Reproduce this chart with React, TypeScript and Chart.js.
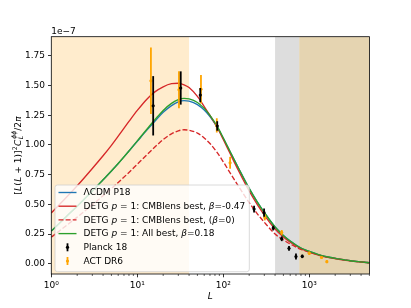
import React, { useEffect, useRef } from 'react';
import { Chart, registerables } from 'chart.js';

Chart.register(...registerables);

// ---------- data (values in units of 1e-7) ----------
const L_GRID = [1, 1.5, 2, 3, 4, 5, 6, 8, 10, 13, 16, 20, 25, 30, 35, 40, 50, 60, 70, 85, 100, 120, 150, 200, 250, 300, 400, 500, 600, 800, 1000, 1300, 1700, 2200, 3000, 4000, 5000];
const LCDM_P18 = [0.275, 0.398, 0.484, 0.612, 0.707, 0.781, 0.844, 0.949, 1.031, 1.127, 1.200, 1.275, 1.331, 1.363, 1.374, 1.369, 1.340, 1.294, 1.239, 1.150, 1.056, 0.943, 0.806, 0.634, 0.516, 0.431, 0.309, 0.238, 0.191, 0.132, 0.103, 0.075, 0.054, 0.040, 0.025, 0.015, 0.008];
const DETG_CMBLENS_BEST = [0.427, 0.559, 0.656, 0.802, 0.909, 0.997, 1.074, 1.198, 1.291, 1.388, 1.447, 1.490, 1.516, 1.520, 1.507, 1.484, 1.409, 1.324, 1.249, 1.147, 1.046, 0.928, 0.785, 0.612, 0.495, 0.410, 0.292, 0.225, 0.181, 0.126, 0.097, 0.071, 0.051, 0.037, 0.024, 0.014, 0.008];
const DETG_CMBLENS_B0 = [0.223, 0.322, 0.392, 0.496, 0.573, 0.633, 0.684, 0.769, 0.838, 0.919, 0.982, 1.046, 1.094, 1.119, 1.128, 1.124, 1.100, 1.059, 1.012, 0.936, 0.858, 0.765, 0.653, 0.514, 0.418, 0.349, 0.250, 0.200, 0.166, 0.120, 0.097, 0.072, 0.053, 0.040, 0.025, 0.015, 0.008];
const DETG_ALL_BEST = [0.275, 0.398, 0.484, 0.612, 0.707, 0.781, 0.844, 0.949, 1.034, 1.135, 1.212, 1.291, 1.350, 1.382, 1.393, 1.388, 1.358, 1.308, 1.249, 1.156, 1.059, 0.945, 0.806, 0.634, 0.516, 0.431, 0.309, 0.238, 0.191, 0.132, 0.103, 0.075, 0.054, 0.040, 0.025, 0.015, 0.008];

const PLANCK_L = [15.3, 32, 54, 85, 228, 298, 381, 478, 581, 700, 829];
const PLANCK_V = [1.33, 1.48, 1.42, 1.16, 0.46, 0.43, 0.30, 0.21, 0.13, 0.06, 0.062];
const PLANCK_E = [0.25, 0.14, 0.06, 0.04, 0.028, 0.035, 0.02, 0.02, 0.02, 0.025, 0.015];

const ACT_L = [14.4, 30.5, 55, 84, 120, 304, 478, 1000, 1390, 1600];
const ACT_V = [1.54, 1.465, 1.47, 1.165, 0.85, 0.39, 0.263, 0.088, 0.052, 0.017];
const ACT_E = [0.28, 0.155, 0.12, 0.06, 0.05, 0.025, 0.021, 0.015, 0.01, 0.012];

const REGION_LO = [1, 400, 763];
const REGION_HI = [40, 763, 5000];

const X_MAJOR = [1, 10, 100, 1000];
const X_LABELS = ['10⁰', '10¹', '10²', '10³'];
const Y_TICKS = [0, 0.25, 0.5, 0.75, 1.0, 1.25, 1.5, 1.75];
const X_MIN = 1, X_MAX = 5000;
const Y_MIN = -0.0868, Y_MAX = 1.912;

type Seg = [string, boolean];
const LEGEND_LABELS: Seg[][] = [
  [['ΛCDM P18', false]],
  [['DETG ', false], ['p', true], [' = 1: CMBlens best, ', false], ['β', true], ['=-0.47', false]],
  [['DETG ', false], ['p', true], [' = 1: CMBlens best, (', false], ['β', true], ['=0)', false]],
  [['DETG ', false], ['p', true], [' = 1: All best, ', false], ['β', true], ['=0.18', false]],
  [['Planck 18', false]],
  [['ACT DR6', false]],
];

// ---------- styles ----------
const BLUE = '#1f77b4', RED = '#d62728', GREEN = '#2ca02c', ORANGE = '#ffa500';
const REGION_COLORS = ['rgb(255,236,205)', 'rgb(221,221,221)', 'rgb(229,212,177)'];
const FONT = '"DejaVu Sans", sans-serif';
const FS = 9;

function setFont(ctx: CanvasRenderingContext2D, size: number, italic: boolean) {
  ctx.font = `${italic ? 'italic ' : ''}${size}px ${FONT}`;
}

function segsWidth(ctx: CanvasRenderingContext2D, segs: Seg[]) {
  let w = 0;
  for (const [t, it] of segs) { setFont(ctx, FS, it); w += ctx.measureText(t).width; }
  return w;
}

function drawSegs(ctx: CanvasRenderingContext2D, segs: Seg[], x: number, y: number) {
  for (const [t, it] of segs) {
    setFont(ctx, FS, it);
    ctx.fillText(t, x, y);
    x += ctx.measureText(t).width;
  }
  return x;
}

const customPlugin = {
  id: 'custom',
  beforeDatasetsDraw(chart: any) {
    const { ctx, chartArea: a, scales } = chart;
    const x = scales.x;
    ctx.save();
    ctx.beginPath();
    ctx.rect(a.left, a.top, a.right - a.left, a.bottom - a.top);
    ctx.clip();
    for (let i = 0; i < REGION_LO.length; i++) {
      const x0 = Math.max(a.left, x.getPixelForValue(REGION_LO[i]));
      const x1 = Math.min(a.right, x.getPixelForValue(REGION_HI[i]));
      ctx.fillStyle = REGION_COLORS[i];
      ctx.fillRect(x0, a.top, x1 - x0, a.bottom - a.top);
    }
    ctx.restore();
  },
  beforeDatasetDraw(chart: any, args: any) {
    const ds = chart.data.datasets[args.index];
    if (!ds.errs) return;
    const { ctx, scales } = chart;
    ctx.save();
    ctx.strokeStyle = ds.errColor;
    ctx.lineWidth = 1.8;
    ds.data.forEach((p: any, i: number) => {
      const px = scales.x.getPixelForValue(p.x);
      const y0 = scales.y.getPixelForValue(p.y - ds.errs[i]);
      const y1 = scales.y.getPixelForValue(p.y + ds.errs[i]);
      ctx.beginPath();
      ctx.moveTo(px, y0);
      ctx.lineTo(px, y1);
      ctx.stroke();
    });
    ctx.restore();
  },
  afterDatasetsDraw(chart: any) {
    const { ctx, chartArea: a, scales } = chart;
    ctx.save();
    ctx.strokeStyle = '#000';
    ctx.lineWidth = 0.6;
    for (let d = 1; d <= 1000; d *= 10) {
      for (let m = 2; m <= 9; m++) {
        const v = m * d;
        if (v > X_MAX) continue;
        const px = scales.x.getPixelForValue(v);
        ctx.beginPath();
        ctx.moveTo(px, a.bottom);
        ctx.lineTo(px, a.bottom + 2);
        ctx.stroke();
      }
    }
    ctx.lineWidth = 0.8;
    ctx.strokeRect(a.left, a.top, a.right - a.left, a.bottom - a.top);
    ctx.restore();
  },
  afterDraw(chart: any) {
    const { ctx, chartArea: a } = chart;
    ctx.save();
    ctx.fillStyle = '#000';
    ctx.textBaseline = 'alphabetic';

    setFont(ctx, FS, false);
    ctx.textAlign = 'left';
    ctx.fillText('1e\u22127', a.left, 34);

    setFont(ctx, FS, true);
    ctx.textAlign = 'center';
    ctx.fillText('L', (a.left + a.right) / 2, 299);

    ctx.textAlign = 'left';
    const small = 6.3;
    const parts: { t: string; it: boolean; size: number; dy: number; stackWith?: { t: string; it: boolean; size: number; dy: number } }[] = [
      { t: '[', it: false, size: FS, dy: 0 },
      { t: 'L', it: true, size: FS, dy: 0 },
      { t: '(', it: false, size: FS, dy: 0 },
      { t: 'L', it: true, size: FS, dy: 0 },
      { t: ' + 1)]', it: false, size: FS, dy: 0 },
      { t: '2', it: false, size: small, dy: -3.8 },
      { t: 'C', it: true, size: FS, dy: 0 },
      { t: 'L', it: true, size: small, dy: 2.2, stackWith: { t: 'ϕϕ', it: true, size: small, dy: -4.2 } },
      { t: '/2', it: false, size: FS, dy: 0 },
      { t: 'π', it: true, size: FS, dy: 0 },
    ];
    let total = 0;
    const widths: number[] = [];
    for (const p of parts) {
      setFont(ctx, p.size, p.it);
      let w = ctx.measureText(p.t).width;
      if (p.stackWith) {
        setFont(ctx, p.stackWith.size, p.stackWith.it);
        w = Math.max(w, ctx.measureText(p.stackWith.t).width);
      }
      widths.push(w + 0.3);
      total += w + 0.3;
    }
    ctx.translate(20.5, (a.top + a.bottom) / 2);
    ctx.rotate(-Math.PI / 2);
    let cx = -total / 2;
    parts.forEach((p, i) => {
      setFont(ctx, p.size, p.it);
      ctx.fillText(p.t, cx, p.dy);
      if (p.stackWith) {
        setFont(ctx, p.stackWith.size, p.stackWith.it);
        ctx.fillText(p.stackWith.t, cx + 0.5, p.stackWith.dy);
      }
      cx += widths[i];
    });
    ctx.setTransform(1, 0, 0, 1, 0, 0);

    // legend
    const lx = 55, ly = 185, rowY0 = 192.5, step = 13.7;
    const hx0 = 58.5, hx1 = 76.5, tx = 83.5;
    let maxW = 0;
    for (const segs of LEGEND_LABELS) maxW = Math.max(maxW, segsWidth(ctx, segs));
    const lw = tx + maxW + 4 - lx;
    const lh = rowY0 + step * 5 + 10.7 - ly;
    const r = 2.5;
    ctx.beginPath();
    ctx.moveTo(lx + r, ly);
    ctx.arcTo(lx + lw, ly, lx + lw, ly + lh, r);
    ctx.arcTo(lx + lw, ly + lh, lx, ly + lh, r);
    ctx.arcTo(lx, ly + lh, lx, ly, r);
    ctx.arcTo(lx, ly, lx + lw, ly, r);
    ctx.closePath();
    ctx.fillStyle = 'rgba(255,255,255,0.8)';
    ctx.fill();
    ctx.strokeStyle = 'rgba(204,204,204,0.8)';
    ctx.lineWidth = 0.9;
    ctx.stroke();

    const handles = [
      { c: BLUE, dash: [] as number[] },
      { c: RED, dash: [] as number[] },
      { c: RED, dash: [5, 2.1] },
      { c: GREEN, dash: [] as number[] },
    ];
    handles.forEach((h, i) => {
      const y = rowY0 + i * step;
      ctx.strokeStyle = h.c;
      ctx.lineWidth = 1.35;
      ctx.setLineDash(h.dash);
      ctx.beginPath();
      ctx.moveTo(hx0, y);
      ctx.lineTo(hx1, y);
      ctx.stroke();
    });
    ctx.setLineDash([]);
    [{ c: '#000', row: 4 }, { c: ORANGE, row: 5 }].forEach((e) => {
      const y = rowY0 + e.row * step;
      const cx2 = (hx0 + hx1) / 2;
      ctx.strokeStyle = e.c;
      ctx.lineWidth = 1.8;
      ctx.beginPath();
      ctx.moveTo(cx2, y - 4);
      ctx.lineTo(cx2, y + 4);
      ctx.stroke();
      ctx.fillStyle = e.c;
      ctx.beginPath();
      ctx.arc(cx2, y, 1.6, 0, Math.PI * 2);
      ctx.fill();
    });
    ctx.fillStyle = '#000';
    ctx.textBaseline = 'middle';
    ctx.textAlign = 'left';
    LEGEND_LABELS.forEach((segs, i) => {
      drawSegs(ctx, segs, tx, rowY0 + i * step + 0.5);
    });
    ctx.restore();
  },
};

function curve(vals: number[], color: string, dash: number[], order: number) {
  return {
    type: 'line',
    data: L_GRID.map((l, i) => ({ x: l, y: vals[i] })),
    borderColor: color,
    borderWidth: 1.35,
    borderDash: dash,
    pointRadius: 0,
    fill: false,
    cubicInterpolationMode: 'monotone',
    order,
  };
}

function points(ls: number[], vs: number[], es: number[], color: string, order: number) {
  return {
    type: 'line',
    showLine: false,
    data: ls.map((l, i) => ({ x: l, y: vs[i] })),
    errs: es,
    errColor: color,
    pointRadius: 1.6,
    pointBorderWidth: 0,
    pointBackgroundColor: color,
    borderColor: color,
    order,
  };
}

export default function App() {
  const ref = useRef<HTMLCanvasElement>(null);
  useEffect(() => {
    document.body.style.margin = '0';
    const chart = new Chart(ref.current as HTMLCanvasElement, {
      type: 'line',
      data: {
        datasets: [
          curve(LCDM_P18, BLUE, [], 7),
          curve(DETG_CMBLENS_BEST, RED, [], 6),
          curve(DETG_CMBLENS_B0, RED, [5, 2.1], 5),
          curve(DETG_ALL_BEST, GREEN, [], 4),
          points(ACT_L, ACT_V, ACT_E, ORANGE, 2),
          points(PLANCK_L, PLANCK_V, PLANCK_E, '#000', 1),
        ] as any,
      },
      options: {
        responsive: false,
        devicePixelRatio: 1,
        animation: false,
        events: [],
        layout: { padding: { left: 0, top: 36.7, right: 41.6, bottom: 0 } },
        plugins: { legend: { display: false }, tooltip: { enabled: false }, title: { display: false } },
        scales: {
          x: {
            type: 'logarithmic',
            min: X_MIN,
            max: X_MAX,
            afterBuildTicks: (s: any) => { s.ticks = X_MAJOR.map((v) => ({ value: v })); },
            afterFit: (s: any) => { s.height = 34; },
            grid: { drawOnChartArea: false, drawTicks: true, tickLength: 3.3, color: '#000', lineWidth: 0.8 },
            border: { display: false },
            ticks: {
              autoSkip: false,
              maxRotation: 0,
              padding: 2.5,
              color: '#000',
              font: { family: FONT, size: FS },
              callback: (v: any) => { const i = X_MAJOR.indexOf(Number(v)); return i >= 0 ? X_LABELS[i] : ''; },
            },
          },
          y: {
            type: 'linear',
            min: Y_MIN,
            max: Y_MAX,
            afterBuildTicks: (s: any) => { s.ticks = Y_TICKS.map((v) => ({ value: v })); },
            afterFit: (s: any) => { s.width = 51.3; },
            grid: { drawOnChartArea: false, drawTicks: true, tickLength: 3.3, color: '#000', lineWidth: 0.8 },
            border: { display: false },
            ticks: {
              padding: 3,
              color: '#000',
              font: { family: FONT, size: FS },
              callback: (v: any) => Number(v).toFixed(2),
            },
          },
        },
      } as any,
      plugins: [customPlugin],
    });
    return () => chart.destroy();
  }, []);
  return (
    <div style={{ position: 'fixed', left: 0, top: 0, width: 411, height: 308, background: '#fff' }}>
      <canvas ref={ref} width={411} height={308} style={{ width: 411, height: 308, display: 'block' }} />
    </div>
  );
}
